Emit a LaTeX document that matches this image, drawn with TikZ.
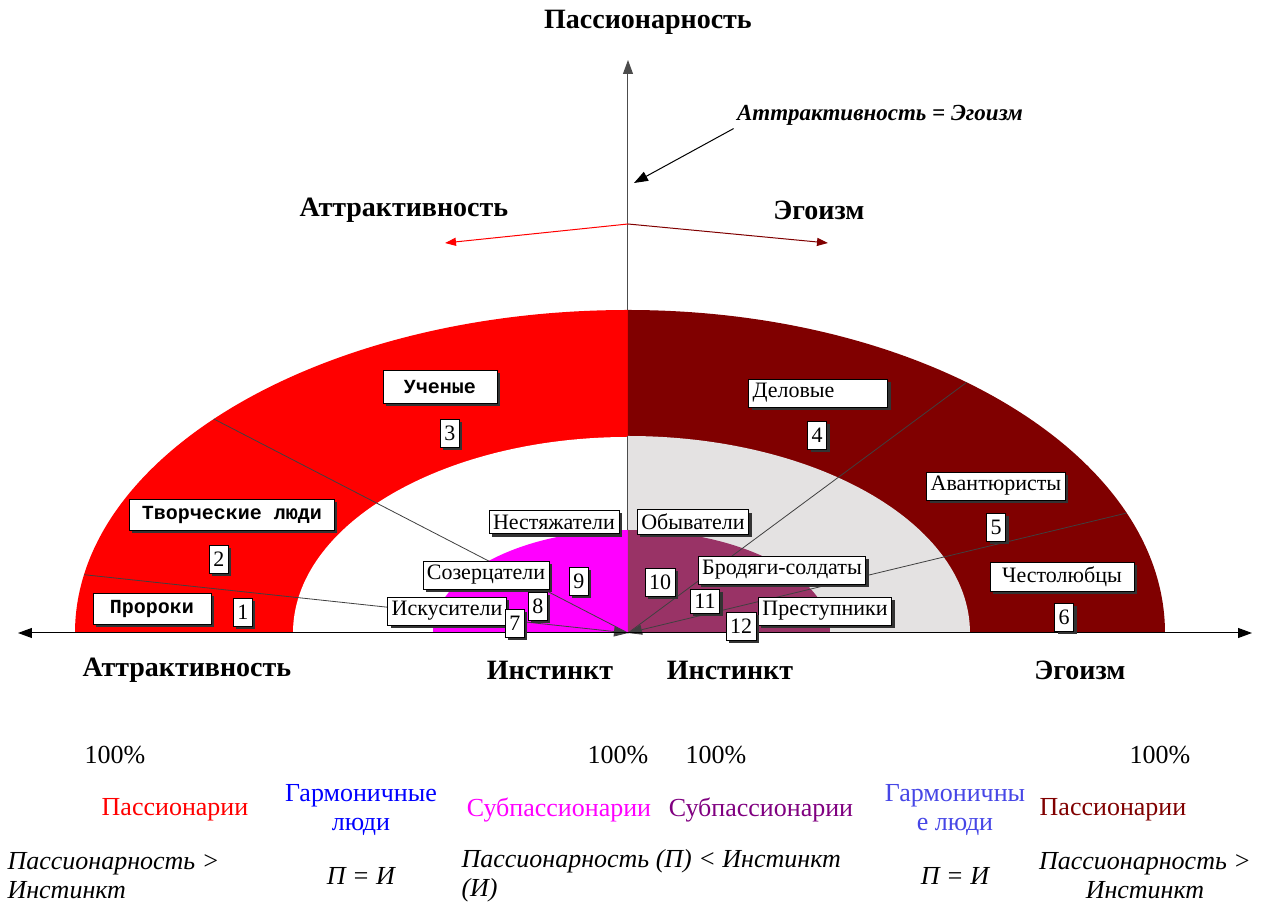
\documentclass[tikz,border=0pt]{standalone}
\usepackage{fontspec}
\setmainfont{Liberation Serif}
\setmonofont{Liberation Mono}
\usepackage{tikz}
\usetikzlibrary{arrows.meta}
\usetikzlibrary{shadows}

\definecolor{passred}{RGB}{255,0,0}
\definecolor{egored}{RGB}{128,0,0}
\definecolor{midgray}{RGB}{228,226,226}
\definecolor{subpink}{RGB}{255,0,255}
\definecolor{subpurple}{RGB}{153,51,102}
\definecolor{txtpurple}{RGB}{128,0,128}
\definecolor{harmblue}{RGB}{70,70,230}

\begin{document}
\begin{tikzpicture}[x=1pt,y=1pt,
  tag/.style={draw=black, fill=white, line width=0.7pt, inner xsep=4pt, inner ysep=4.5pt,
    font=\fontsize{22}{25}\selectfont,
    drop shadow={shadow xshift=3pt, shadow yshift=-3pt, fill=black!80, opacity=1}},
  numtag/.style={tag, minimum height=28pt},
  monotag/.style={tag, minimum height=31pt, font=\fontsize{20}{24}\selectfont\ttfamily\bfseries},
  ray/.style={draw=black!75, line width=0.8pt},
  head/.style={font=\fontsize{28}{31}\selectfont\bfseries},
  cell/.style={font=\fontsize{26}{29}\selectfont, align=center},
  tip/.style={-{Triangle[length=14pt,width=10pt]}}]
\useasboundingbox (-628,-271) rectangle (641,633);
\coordinate (O) at (0,0);
% draws sectors
\fill[passred] (O) -- (0,323) arc[start angle=90, end angle=180, x radius=553, y radius=323] -- cycle;
\fill[egored] (O) -- (537,0) arc[start angle=0, end angle=90, x radius=537, y radius=323] -- cycle;
\fill[white] (O) -- (0,196) arc[start angle=90, end angle=180, x radius=335, y radius=196] -- cycle;
\fill[midgray] (O) -- (342,0) arc[start angle=0, end angle=90, x radius=342, y radius=197] -- cycle;
\fill[subpink] (O) -- (0,103) arc[start angle=90, end angle=180, x radius=195, y radius=103] -- cycle;
\fill[subpurple] (O) -- (202,0) arc[start angle=0, end angle=90, x radius=202, y radius=103] -- cycle;
% draws rays
\coordinate (rayA) at (169.6:553 and 323);
\coordinate (rayB) at (138.5:553 and 323);
\coordinate (rayC) at (50.9:537 and 323);
\coordinate (rayD) at (21.8:537 and 323);
\draw[ray, tip] (rayA) -- (O);
\draw[ray] (rayB) -- (O);
\draw[ray] (rayC) -- (O);
\draw[ray, tip] (rayD) -- (O);
% draws axes
\coordinate (xleft) at (-610,0);
\coordinate (xright) at (624,0);
\coordinate (ytop) at (0,573);
\coordinate (ymid) at (0,103);
\coordinate (yring) at (0,197);
\coordinate (youter) at (0,323);
\draw[line width=1pt, tip] (O) -- (xleft);
\draw[line width=1pt, tip] (O) -- (xright);
\draw[draw=black!70, line width=1pt] (ymid) -- (yring);
\draw[draw=black!70, line width=1pt, tip] (youter) -- (ytop);
% draws fork arrows
\coordinate (fork) at (0,409);
\coordinate (attrend) at (-183,390);
\coordinate (egoend) at (200,390);
\draw[passred, line width=1pt, -{Triangle[length=11pt,width=8pt]}] (fork) -- (attrend);
\draw[egored, line width=1pt, -{Triangle[length=11pt,width=8pt]}] (fork) -- (egoend);
% labels axes
\node[head] (passion) at (20,611) {Пассионарность};
\node[head] (attrup) at (-224,423) {Аттрактивность};
\node[head] (egoup) at (191,423) {Эгоизм};
\node[head, font=\fontsize{23}{26}\selectfont\bfseries\itshape] (attreq) at (252,518) {Аттрактивность = Эгоизм};
\coordinate (attrtip) at (6,450);
\draw[line width=1pt, tip] (attreq.south west) -- (attrtip);
\node[head] (attrdown) at (-441,-37) {Аттрактивность};
\node[head] (instleft) at (-78,-37) {Инстинкт};
\node[head] (instright) at (102,-37) {Инстинкт};
\node[head] (egodown) at (452,-37) {Эгоизм};
% labels outer ring
\node[monotag, minimum width=114pt, minimum height=33pt] (uchenye) at (-188,246) {Ученые};
\node[numtag] (n3) at (-178,200) {3};
\node[monotag, minimum width=205pt] (tvorch) at (-396,118) {Творческие люди};
\node[numtag] (n2) at (-409,74) {2};
\node[monotag, minimum width=118pt] (proroki) at (-476,24) {Пророки};
\node[numtag] (n1) at (-385,21) {1};
\node[tag, text width=131pt, align=left] (delovye) at (190,240) {Деловые};
\node[numtag] (n4) at (189,198) {4};
\node[tag] (avant) at (368,147) {Авантюристы};
\node[numtag] (n5) at (368,106) {5};
\node[tag, minimum width=144pt] (chest) at (434,56) {Честолюбцы};
\node[numtag] (n6) at (436,16) {6};
% labels inner ring
\node[tag] (nestyazh) at (-74,111) {Нестяжатели};
\node[tag] (sozerc) at (-142,58) {Созерцатели};
\node[numtag] (n9) at (-49,52) {9};
\node[numtag] (n8) at (-90,27) {8};
\node[tag] (iskus) at (-181,22) {Искусители};
\node[numtag] (n7) at (-113,10) {7};
\node[tag] (obyv) at (65,111) {Обыватели};
\node[numtag] (n10) at (32,51) {10};
\node[tag] (brodyagi) at (154,63) {Бродяги-солдаты};
\node[numtag, minimum height=24pt] (n11) at (77,32) {11};
\node[tag] (prest) at (197,22) {Преступники};
\node[numtag] (n12) at (113,7) {12};
% labels table
\node[cell] (pct1) at (-513,-122) {100\%};
\node[cell] (pct2) at (-10,-122) {100\%};
\node[cell] (pct3) at (88,-122) {100\%};
\node[cell] (pct4) at (532,-122) {100\%};
\node[cell, text=passred] (passl) at (-453,-177) {Пассионарии};
\node[cell, text=blue] (harml) at (-267,-177) {Гармоничные\\люди};
\node[cell, text=subpink] (subl) at (-69,-177) {Субпассионарии};
\node[cell, text=txtpurple] (subr) at (133,-177) {Субпассионарии};
\node[cell, text=harmblue] (harmr) at (327,-177) {Гармоничны\\е люди};
\node[cell, text=egored] (passr) at (485,-177) {Пассионарии};
\node[cell, anchor=west, align=left, font=\fontsize{26}{29}\selectfont\itshape] (ruleL) at (-624,-243) {Пассионарность >\\Инстинкт};
\node[cell, font=\fontsize{26}{29}\selectfont\itshape] (eqL) at (-267,-243) {П = И};
\node[cell, anchor=west, align=left, font=\fontsize{26}{29}\selectfont\itshape] (ruleM) at (-170,-243) {Пассионарность (П) < Инстинкт\\(И)};
\node[cell, font=\fontsize{26}{29}\selectfont\itshape] (eqR) at (327,-243) {П = И};
\node[cell, font=\fontsize{26}{29}\selectfont\itshape] (ruleR) at (517,-243) {Пассионарность >\\Инстинкт};
\end{tikzpicture}
\end{document}
